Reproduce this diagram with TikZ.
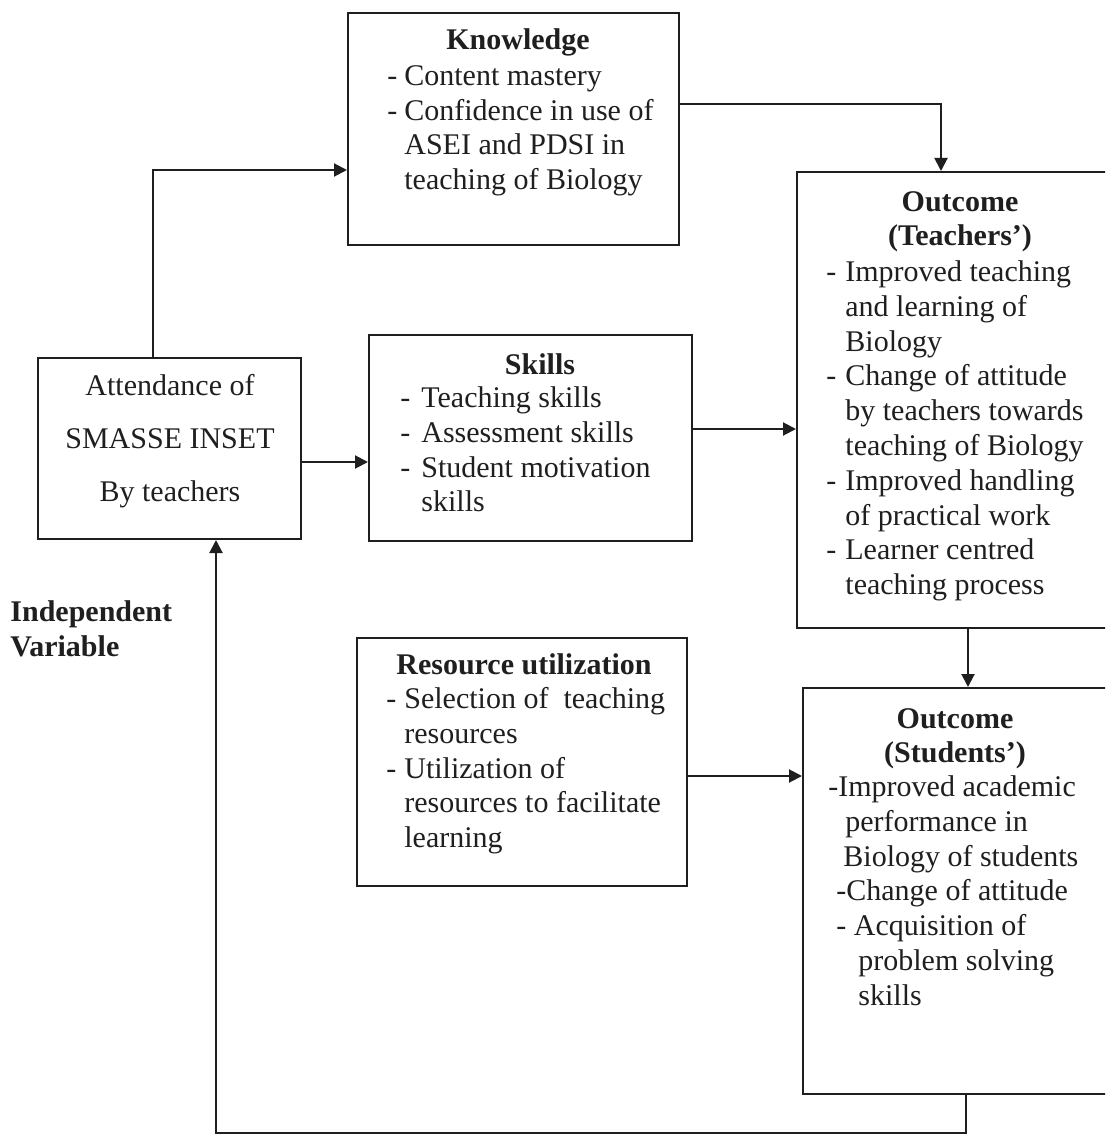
\documentclass[tikz,border=0pt]{standalone}
\usepackage{fontspec}
\setmainfont{Liberation Serif}
\usetikzlibrary{arrows.meta,fit,calc}
\definecolor{ink}{gray}{0.12}
\newcommand{\fl}{\rule{0pt}{12.2pt}}
\newcommand{\dsh}[2]{\makebox[#1][l]{-}#2}
\begin{document}
\begin{tikzpicture}[x=0.5pt,y=-0.5pt,
  box/.style={draw=ink, line width=1pt, inner sep=0pt},
  arr/.style={draw=ink, line width=1pt, -{Triangle[length=6.5pt,width=6.5pt]}},
  txt/.style={text=ink, font=\fontsize{15}{17.4}\selectfont, inner sep=0pt},
  ttl/.style={txt, font=\fontsize{15}{17.4}\selectfont\bfseries, anchor=base}]
\useasboundingbox (0,0) rectangle (1105,1134);
\clip (0,0) rectangle (1105,1134);
\fill[white] (0,0) rectangle (1105,1134);
% boxes
\node[box, fit={(348,13) (679,245)}] (know) {};
\node[box, fit={(797,172) (1112,628)}] (outT) {};
\node[box, fit={(38,358) (301,539)}] (att) {};
\node[box, fit={(369,335) (692,541)}] (ski) {};
\node[box, fit={(357,638) (687,886)}] (res) {};
\node[box, fit={(803,688) (1112,1094)}] (outS) {};
% texts
\node[ttl] (knowH) at (518,50) {Knowledge};
\node[txt, anchor=north west, align=left] (knowT) at (387,60.6)
  {\fl\dsh{8.5pt}{Content mastery}\\ \dsh{8.5pt}{Confidence in use of}\\ \hspace*{8.5pt}ASEI and PDSI in\\ \hspace*{8.5pt}teaching of Biology};
\node[ttl] (outTH) at (960,212) {Outcome};
\node[ttl] (outTH2) at (960,246) {(Teachers’)};
\node[txt, anchor=north west, align=left] (outTT) at (826,256.6)
  {\fl\dsh{9.5pt}{Improved teaching}\\ \hspace*{9.5pt}and learning of\\ \hspace*{9.5pt}Biology\\
   \dsh{9.5pt}{Change of attitude}\\ \hspace*{9.5pt}by teachers towards\\ \hspace*{9.5pt}teaching of Biology\\
   \dsh{9.5pt}{Improved handling}\\ \hspace*{9.5pt}of practical work\\
   \dsh{9.5pt}{Learner centred}\\ \hspace*{9.5pt}teaching process};
\node[txt, anchor=north, align=center, font=\fontsize{15}{26.5}\selectfont] (attT) at (170,370.6)
  {\fl Attendance of\\ SMASSE INSET\\ By teachers};
\node[ttl] (skiH) at (540,374) {Skills};
\node[txt, anchor=north west, align=left] (skiT) at (400,382.6)
  {\fl\dsh{10.5pt}{Teaching skills}\\ \dsh{10.5pt}{Assessment skills}\\ \dsh{10.5pt}{Student motivation}\\ \hspace*{10.5pt}skills};
\node[txt, anchor=north west, align=left, font=\fontsize{15}{17.5}\selectfont\bfseries] (indep) at (10,596.6)
  {\fl Independent\\ Variable};
\node[ttl] (resH) at (524,674) {Resource utilization};
\node[txt, anchor=north west, align=left] (resT) at (386,683.6)
  {\fl\dsh{9pt}{Selection of\ \ teaching}\\ \hspace*{9pt}resources\\ \dsh{9pt}{Utilization of}\\ \hspace*{9pt}resources to facilitate\\ \hspace*{9pt}learning};
\node[ttl] (outSH) at (955,728) {Outcome};
\node[ttl] (outSH2) at (955,762) {(Students’)};
\node[txt, anchor=north west, align=left] (outST) at (828,771.6)
  {\fl -Improved academic\\ \hspace*{8.5pt}performance in\\ \hspace*{7.5pt}Biology of students\\
   \hspace*{4pt}-Change of attitude\\ \hspace*{4pt}- Acquisition of\\ \hspace*{15pt}problem solving\\ \hspace*{15pt}skills};
% connectors
\draw[arr] ([xshift=-8.25pt]att.north) |- ([yshift=-20.5pt]know.west);
\draw[arr] ([yshift=12.5pt]know.east) -| ([xshift=-6.75pt]outT.north);
\coordinate (p1) at ([yshift=-6.75pt]att.east);
\draw[arr] (p1) -- (p1 -| ski.west);
\coordinate (p2) at ([yshift=4.5pt]ski.east);
\draw[arr] (p2) -- (p2 -| outT.west);
\coordinate (p3) at ([xshift=6.75pt]outT.south);
\draw[arr] (p3) -- (p3 |- outS.north);
\coordinate (p4) at ([yshift=-7pt]res.east);
\draw[arr] (p4) -- (p4 -| outS.west);
\coordinate (q1) at ([xshift=4.25pt]outS.south);
\coordinate (q2) at ([xshift=23.25pt]att.south);
\coordinate (bot) at (0,1133);
\draw[arr] (q1) -- (q1 |- bot) -| (q2);
\end{tikzpicture}
\end{document}
